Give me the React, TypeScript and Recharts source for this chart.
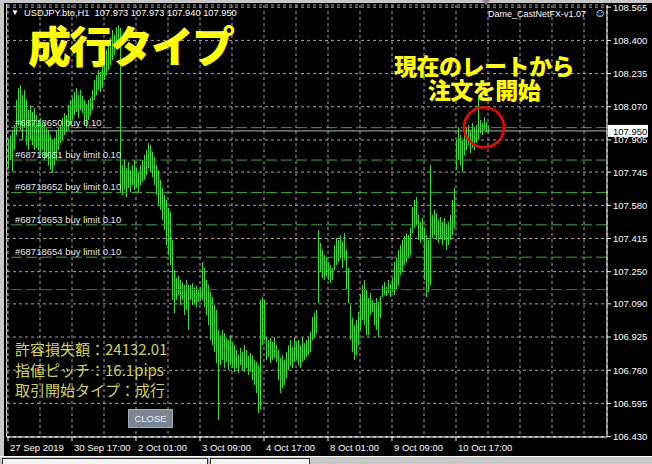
import { Bar, CartesianGrid, ComposedChart, ReferenceDot, ReferenceLine, XAxis, YAxis } from 'recharts';

// H1 bars, USDJPY.bto — high / low per hour
const highs = [
  107.905, 107.93, 107.954, 107.979, 108.104, 108.163, 108.178, 108.129, 108.153, 108.104,
  108.054, 108.079, 108.044, 108.064, 108.029, 108.004, 108.014, 107.979, 107.994, 107.964,
  107.954, 107.93, 107.905, 107.915, 107.954, 107.964, 107.979, 108.014, 108.039, 108.029,
  108.079, 108.104, 108.119, 108.143, 108.163, 108.129, 108.153, 108.124, 108.104, 108.084,
  108.104, 108.114, 108.153, 108.203, 108.228, 108.253, 108.243, 108.278, 108.303, 108.352,
  108.377, 108.412, 108.452, 108.427, 108.467, 108.477, 108.462, 107.781, 107.805, 107.766,
  107.795, 107.756, 107.781, 107.805, 107.766, 107.746, 107.781, 107.805, 107.83, 107.855,
  107.89, 107.88, 107.845, 107.82, 107.781, 107.756, 107.706, 107.666, 107.631, 107.606,
  107.567, 107.547, 107.408, 107.258, 107.219, 107.229, 107.209, 107.194, 107.184, 107.209,
  107.184, 107.184, 107.194, 107.169, 107.179, 107.159, 107.174, 107.298, 107.268, 107.209,
  107.184, 107.149, 107.124, 107.084, 107.059, 106.96, 106.935, 106.96, 106.945, 106.92,
  106.91, 106.935, 106.9, 106.885, 106.86, 106.836, 106.87, 106.851, 106.885, 106.86,
  106.831, 106.846, 106.836, 106.811, 106.801, 106.786, 107.109, 107.124, 107.109, 106.925,
  106.91, 106.92, 106.9, 106.925, 106.885, 106.86, 106.821, 106.836, 106.811, 106.851,
  106.885, 106.91, 106.875, 106.925, 106.9, 106.91, 106.885, 106.92, 106.895, 106.91,
  106.925, 106.95, 107.025, 107.045, 107.059, 107.457, 107.393, 107.358, 107.333, 107.318,
  107.298, 107.283, 107.268, 107.383, 107.417, 107.408, 107.432, 107.398, 107.442, 107.358,
  107.268, 107.084, 107.02, 106.985, 107.01, 107.049, 107.134, 107.184, 107.209, 107.159,
  107.119, 107.144, 107.109, 107.094, 107.119, 107.099, 107.129, 107.184, 107.199, 107.174,
  107.209, 107.189, 107.219, 107.298, 107.318, 107.358, 107.383, 107.408, 107.427, 107.442,
  107.432, 107.467, 107.572, 107.606, 107.621, 107.532, 107.497, 107.517, 107.467, 107.432,
  107.408, 107.781, 107.532, 107.557, 107.542, 107.507, 107.522, 107.497, 107.517, 107.482,
  107.497, 107.532, 107.606, 107.666, 107.905, 107.969, 107.93, 107.905, 107.94, 107.964,
  107.979, 107.954, 107.989, 107.969, 107.979, 108.129, 108.004, 107.989, 108.019, 107.994,
  107.973,
];
const lows = [
  107.766, 107.805, 107.746, 107.855, 107.93, 107.979, 107.954, 107.905, 107.964, 107.88,
  107.855, 107.905, 107.88, 107.855, 107.865, 107.855, 107.83, 107.855, 107.805, 107.815,
  107.781, 107.756, 107.741, 107.781, 107.805, 107.855, 107.89, 107.905, 107.93, 107.945,
  107.954, 107.979, 108.004, 108.029, 108.044, 108.014, 108.054, 108.039, 107.979, 107.964,
  108.004, 108.029, 108.054, 108.104, 108.129, 108.153, 108.143, 108.163, 108.203, 108.228,
  108.253, 108.278, 108.303, 108.327, 108.352, 108.362, 107.641, 107.631, 107.656, 107.621,
  107.666, 107.646, 107.681, 107.656, 107.666, 107.646, 107.681, 107.696, 107.706, 107.731,
  107.766, 107.746, 107.721, 107.681, 107.631, 107.582, 107.557, 107.507, 107.457, 107.383,
  107.333, 107.283, 107.109, 107.045, 107.109, 107.134, 107.084, 107.109, 107.035, 107.059,
  106.96, 107.109, 107.084, 107.094, 107.074, 107.099, 107.109, 107.109, 107.074, 107.035,
  106.985, 106.91, 106.885, 106.851, 106.796, 106.512, 106.786, 106.811, 106.771, 106.801,
  106.761, 106.786, 106.771, 106.751, 106.771, 106.746, 106.786, 106.761, 106.751, 106.771,
  106.736, 106.751, 106.711, 106.686, 106.647, 106.547, 106.562, 106.885, 106.91, 106.811,
  106.826, 106.796, 106.811, 106.821, 106.801, 106.711, 106.647, 106.671, 106.686, 106.721,
  106.761, 106.786, 106.771, 106.801, 106.811, 106.786, 106.771, 106.801, 106.811, 106.826,
  106.836, 106.851, 106.91, 106.925, 106.945, 107.094, 107.248, 107.219, 107.209, 107.229,
  107.209, 107.194, 107.209, 107.258, 107.283, 107.298, 107.318, 107.268, 107.308, 107.159,
  107.094, 106.91, 106.851, 106.811, 106.836, 106.885, 106.96, 107.01, 106.985, 106.935,
  106.935, 107.035, 107.049, 106.985, 106.96, 106.925, 107.02, 107.124, 107.134, 107.129,
  107.144, 107.124, 107.149, 107.134, 107.159, 107.184, 107.233, 107.248, 107.283, 107.298,
  107.318, 107.333, 107.442, 107.467, 107.482, 107.408, 107.393, 107.417, 107.209, 107.124,
  107.149, 107.184, 107.417, 107.432, 107.408, 107.393, 107.417, 107.383, 107.408, 107.358,
  107.383, 107.408, 107.432, 107.467, 107.756, 107.805, 107.781, 107.746, 107.83, 107.855,
  107.88, 107.84, 107.865, 107.855, 107.89, 107.905, 107.94, 107.93, 107.954, 107.945,
  107.94,
];

const timeLabels = ['27 Sep 2019', '30 Sep 17:00', '2 Oct 01:00', '3 Oct 09:00', '4 Oct 17:00', '8 Oct 01:00', '9 Oct 09:00', '10 Oct 17:00'];
const barsPerLabel = 32;
const totalSlots = 300; // visible bars incl. empty right shift

const priceTicks = [108.565, 108.4, 108.235, 108.07, 107.905, 107.745, 107.58, 107.415, 107.25, 107.09, 106.925, 106.76, 106.595, 106.43];
const bidPrice = 107.95;

const orderLabels = ['#68718650 buy 0.10', '#68718651 buy limit 0.10', '#68718652 buy limit 0.10', '#68718653 buy limit 0.10', '#68718654 buy limit 0.10'];
const orderPrices = [107.966, 107.805, 107.644, 107.483, 107.322];
const stopPrice = 107.161;

const infoLines = ['許容損失額：24132.01', '指値ピッチ：16.1pips', '取引開始タイプ：成行'];

const data = Array.from({ length: totalSlots }, (_, i) => ({
  i,
  hl: i < highs.length ? [lows[i], highs[i]] : undefined,
}));

const FONT = 'Liberation Sans, Arial, sans-serif';
const CJK = '"Noto Sans CJK JP", sans-serif';

function HLBar(props: any) {
  const { x, y, height, payload } = props;
  if (!payload || !payload.hl || !Number.isFinite(y) || !Number.isFinite(height)) return <g />;
  return <rect x={Math.round(x)} y={y} width={1} height={Math.max(height, 1)} fill="#33dd33" shapeRendering="crispEdges" />;
}

function TimeTick(props: any) {
  const { x, y, payload } = props;
  const v = Number(payload.value);
  if (v % barsPerLabel !== 0) return <g />;
  const label = timeLabels[v / barsPerLabel];
  if (!label) return <g />;
  return (
    <g>
      <line x1={x} x2={x} y1={y - 4} y2={y} stroke="#ffffff" />
      <text x={x + 2} y={y + 10} fill="#ffffff" fontSize={9.5} fontFamily={FONT}>
        {label}
      </text>
    </g>
  );
}

function OrderTag(props: any) {
  const { viewBox, text } = props;
  if (!viewBox) return null;
  return (
    <text x={viewBox.x + 8} y={viewBox.y - 2} fill="#e6e6e6" fontSize={9.5} fontFamily={FONT}>
      {text}
    </text>
  );
}

function PriceTag(props: any) {
  const { viewBox, text } = props;
  if (!viewBox) return null;
  const x = viewBox.x + viewBox.width + 1;
  return (
    <g>
      <rect x={x} y={viewBox.y - 6} width={40} height={12} fill="#ffffff" />
      <text x={x + 5} y={viewBox.y + 4} fill="#000000" fontSize={9.5} fontFamily={FONT}>
        {text}
      </text>
    </g>
  );
}

export default function App() {
  return (
    <div style={{ position: 'absolute', left: 0, top: 0, width: 652, height: 464, background: '#c8c8c8', overflow: 'hidden', fontFamily: FONT }}>
      <div style={{ position: 'absolute', left: 4, top: 3, width: 648, height: 453, background: '#000' }} />
      <div style={{ position: 'absolute', left: 0, top: 456, width: 652, height: 1, background: '#ffffff' }} />
      <div style={{ position: 'absolute', left: 2, top: 458, width: 204, height: 8, background: '#f4f4f4', border: '1px solid #333' }} />
      <div style={{ position: 'absolute', left: 210, top: 458, width: 98, height: 8, background: '#f4f4f4', border: '1px solid #333' }} />
      <div style={{ position: 'absolute', left: 6, top: 4, width: 1, height: 433, background: '#d0d0d0' }} />

      <div style={{ position: 'absolute', left: 0, top: 0 }}>
        <ComposedChart width={652} height={464} data={data} margin={{ top: 5, right: 0, bottom: 0, left: 7 }} barCategoryGap={0}>
          <CartesianGrid stroke="#a8a8a8" strokeDasharray="3 3" />
          <XAxis
            dataKey="i"
            type="category"
            interval={15}
            height={27}
            tickSize={4}
            tickMargin={0}
            tickLine={false}
            axisLine={{ stroke: '#ffffff' }}
            tick={<TimeTick />}
          />
          <YAxis
            orientation="right"
            width={45}
            domain={[106.428, 108.576]}
            allowDataOverflow
            ticks={priceTicks}
            interval={0}
            tickSize={4}
            tickMargin={2}
            axisLine={{ stroke: '#ffffff' }}
            tickLine={{ stroke: '#ffffff' }}
            tick={{ fill: '#ffffff', fontSize: 9.5, fontFamily: FONT }}
            tickFormatter={(v) => Number(v).toFixed(3)}
          />
          <Bar dataKey="hl" barSize={1} shape={<HLBar />} isAnimationActive={false} />
          {orderPrices.map((p, k) => (
            <ReferenceLine key={k} y={p} stroke="#3aa83a" strokeDasharray="11 4" label={<OrderTag text={orderLabels[k]} />} />
          ))}
          <ReferenceLine y={stopPrice} stroke="#dc1e3c" strokeDasharray="11 4" />
          <ReferenceLine y={bidPrice} stroke="#b4b4b4" label={<PriceTag text={bidPrice.toFixed(3)} />} />
          <ReferenceDot x={238} y={107.968} r={20} fill="none" stroke="#ff0000" strokeWidth={2.5} />
        </ComposedChart>
      </div>

      {/* header */}
      <div style={{ position: 'absolute', left: 11, top: 7, fontSize: 8, lineHeight: '12px', color: '#fff' }}>▼</div>
      <div style={{ position: 'absolute', left: 24, top: 7, fontSize: 9.3, lineHeight: '12px', color: '#fff', whiteSpace: 'pre' }}>
        USDJPY.bto,H1  107.973 107.973 107.940 107.950
      </div>
      <div style={{ position: 'absolute', left: 488, top: 8, fontSize: 9, lineHeight: '12px', color: '#fff', whiteSpace: 'pre' }}>
        Dame_CastNetFX-v1.07
      </div>
      <div style={{ position: 'absolute', left: 594, top: 6, fontSize: 12, lineHeight: '14px', color: '#fff' }}>☺</div>
      <div style={{ position: 'absolute', left: 482, top: 0, width: 0, height: 0, borderLeft: '4px solid transparent', borderRight: '4px solid transparent', borderTop: '5px solid #8a8a8a' }} />

      {/* annotations */}
      <div style={{ position: 'absolute', left: 28, top: 24, fontFamily: CJK, fontWeight: 900, fontSize: 43, lineHeight: '40px', letterSpacing: -2, color: '#ffff00', whiteSpace: 'nowrap' }}>
        成行タイプ
      </div>
      <div style={{ position: 'absolute', left: 384, top: 54, width: 200, textAlign: 'center', fontFamily: CJK, fontWeight: 900, fontSize: 23, lineHeight: '23px', letterSpacing: -0.5, color: '#ffff00', whiteSpace: 'nowrap' }}>
        現在のレートから
      </div>
      <div style={{ position: 'absolute', left: 384, top: 78, width: 200, textAlign: 'center', fontFamily: CJK, fontWeight: 900, fontSize: 23, lineHeight: '23px', letterSpacing: -0.5, color: '#ffff00', whiteSpace: 'nowrap' }}>
        注文を開始
      </div>

      <div style={{ position: 'absolute', left: 15, top: 339, fontFamily: CJK, fontSize: 15, lineHeight: '20.5px', color: '#d4d44a', whiteSpace: 'nowrap' }}>
        {infoLines.map((t) => (
          <div key={t}>{t}</div>
        ))}
      </div>

      <div
        style={{
          position: 'absolute',
          left: 128,
          top: 409,
          width: 43,
          height: 17,
          background: '#7a8591',
          border: '1px solid #a2acb6',
          color: '#e8ecf0',
          fontSize: 9.5,
          lineHeight: '17px',
          textAlign: 'center',
        }}
      >
        CLOSE
      </div>
    </div>
  );
}
